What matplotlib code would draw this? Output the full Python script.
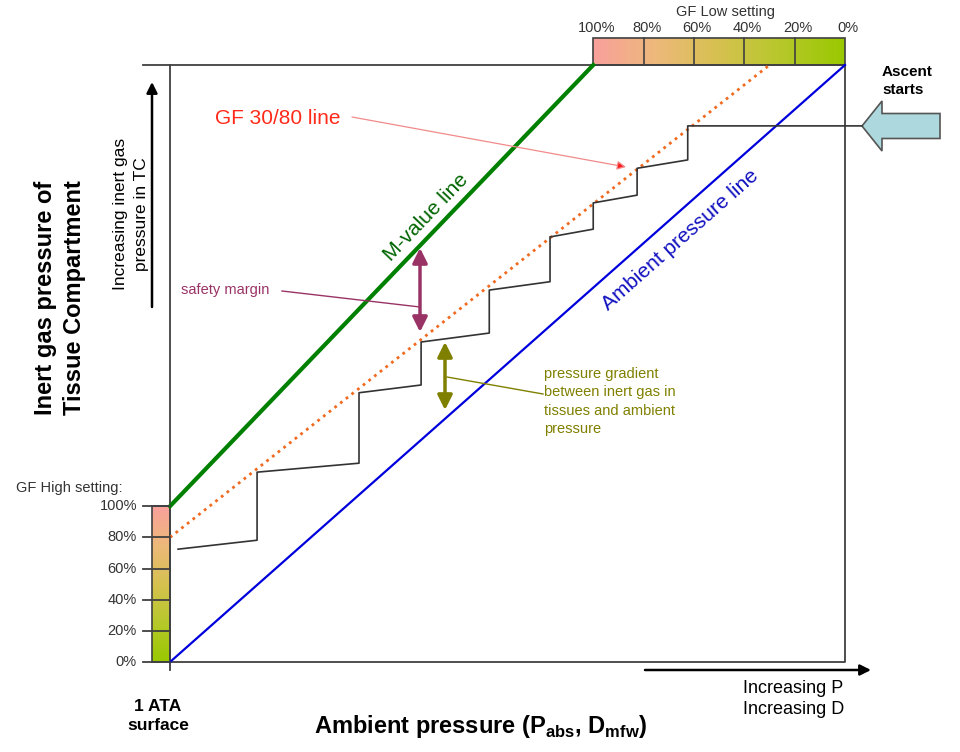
import numpy as np
import matplotlib.pyplot as plt
import matplotlib.patches as mpatches
from matplotlib.colors import LinearSegmentedColormap

# diagram units: x = ambient pressure (0 = surface, 1 = start of ascent),
# y = inert gas pressure in the tissue compartment (ambient line: y = x)
mvalue_surface = 0.261      # M-value at the surface
mvalue_top_p = 0.627        # ambient pressure where M-value line reaches y = 1
gf_low = 0.30
gf_high = 0.80
gf_steps = [0, 20, 40, 60, 80, 100]
gf_labels = ['0%', '20%', '40%', '60%', '80%', '100%']

# tissue pressure during the ascent with deco stops
tissue_p = [1.025, 0.767, 0.767, 0.692, 0.692, 0.627, 0.627, 0.563, 0.563,
            0.473, 0.473, 0.372, 0.372, 0.280, 0.280, 0.129, 0.129, 0.012]
tissue_y = [0.898, 0.898, 0.841, 0.827, 0.782, 0.769, 0.725, 0.712, 0.637,
            0.623, 0.551, 0.536, 0.464, 0.451, 0.333, 0.318, 0.204, 0.189]

W, H = 960, 752
BOX = (170, 65, 845, 662)   # left, top, right, bottom in pixels


def fx(x):
    return x / W


def fy(y):
    return 1 - y / H


def mvalue(p):
    return mvalue_surface + (1 - mvalue_surface) / mvalue_top_p * p


def main():
    plt.rcParams['font.family'] = ['Liberation Sans', 'DejaVu Sans']
    plt.rcParams['mathtext.fontset'] = 'custom'
    plt.rcParams['mathtext.rm'] = 'Liberation Sans'
    plt.rcParams['mathtext.bf'] = 'Liberation Sans:bold'

    fig = plt.figure(figsize=(W / 100, H / 100), dpi=100, facecolor='w')
    l, t, r, b = BOX
    ax = fig.add_axes([fx(l), fy(b), (r - l) / W, (b - t) / H])
    ax.set_axis_off()
    sx = 1 / (r - l)   # data units per pixel
    sy = 1 / (b - t)

    gf_cmap = LinearSegmentedColormap.from_list(
        'gf', ['#99c900', '#b6c82a', '#d6c150', '#edb97a', '#f9a09c'])
    edge = '#404040'

    # frame
    ax.plot([0, 0], [1, -8 * sy], color=edge, lw=1.3, clip_on=False)
    ax.plot([-27 * sx, 1], [1, 1], color=edge, lw=1.3, clip_on=False)
    ax.plot([0, 1, 1], [0, 0, 1], color=edge, lw=1.3, clip_on=False)

    # ambient pressure line
    ax.plot([0, 1], [0, 1], color='#0000dd', lw=1.6, clip_on=False)
    # M-value line
    ax.plot([0, mvalue_top_p], [mvalue(0), mvalue(mvalue_top_p)],
            color='#008000', lw=3, clip_on=False)
    # GF line
    gf_p = [0, 1 - gf_low * (1 - mvalue_top_p)]
    gf_y = [gf_high * mvalue(0), 1]
    ax.plot(gf_p, gf_y, color='#f06a20', lw=2, ls=(0, (1, 1.6)), clip_on=False)

    # tissue pressure staircase
    ax.plot(tissue_p, tissue_y, color='#333333', lw=1.2, clip_on=False)

    # GF High setting bar (left)
    bx0 = -18 * sx
    im = ax.imshow(np.linspace(0, 1, 256).reshape(-1, 1), cmap=gf_cmap,
                   origin='lower', aspect='auto',
                   extent=[bx0, 0, 0, mvalue(0)], zorder=1)
    im.set_clip_on(False)
    ax.add_patch(mpatches.Rectangle((bx0, 0), -bx0, mvalue(0), fill=False,
                                    ec=edge, lw=1.2, clip_on=False))
    for g, lab in zip(gf_steps, gf_labels):
        yy = g / 100 * mvalue(0)
        ax.plot([-27 * sx, 0], [yy, yy], color=edge, lw=1.3, clip_on=False)
        ax.text(-33 * sx, yy, lab, ha='right', va='center', fontsize=10.5,
                color='#333333')
    fig.text(fx(16), fy(488), 'GF High setting:', fontsize=10.5,
             color='#333333', va='center')

    # GF Low setting bar (top)
    bh = 27 * sy
    im2 = ax.imshow(np.linspace(1, 0, 256).reshape(1, -1), cmap=gf_cmap,
                    aspect='auto', extent=[mvalue_top_p, 1, 1, 1 + bh], zorder=1)
    im2.set_clip_on(False)
    ax.add_patch(mpatches.Rectangle((mvalue_top_p, 1), 1 - mvalue_top_p, bh,
                                    fill=False, ec=edge, lw=1.2, clip_on=False))
    for g, lab in zip(gf_steps, gf_labels):
        xx = 1 - g / 100 * (1 - mvalue_top_p)
        if 0 < g < 100:
            ax.plot([xx, xx], [1, 1 + bh], color=edge, lw=1.2, clip_on=False)
        ax.text(xx + 3 * sx, 1 + 37 * sy, lab, ha='center', va='center',
                fontsize=10.5, color='#333333')
    fig.text(fx(725), fy(12), 'GF Low setting', ha='center', va='center',
             fontsize=10.5, color='#333333')

    # ascent arrow
    ax.add_patch(mpatches.FancyArrow(
        (940 - l) * sx, (b - 126) * sy, -78 * sx, 0, width=25 * sy,
        head_width=50 * sy, head_length=20 * sx, length_includes_head=True,
        fc='#acd8de', ec='#555555', lw=1.2, clip_on=False))
    fig.text(fx(882), fy(81), 'Ascent\nstarts', fontsize=11, fontweight='bold',
             va='center', ha='left', linespacing=1.3)

    # line labels
    ang_amb = np.degrees(np.arctan2(b - t, r - l))
    ax.text((680 - l) * sx, (b - 240) * sy, 'Ambient pressure line',
            color='#1010c0', fontsize=15, rotation=ang_amb,
            rotation_mode='anchor', ha='center', va='center')
    ang_m = np.degrees(np.arctan2((mvalue(mvalue_top_p) - mvalue(0)) / sy,
                                  mvalue_top_p / sx))
    ax.text((426 - l) * sx, (b - 217) * sy, 'M-value line',
            color='#006400', fontsize=15, rotation=ang_m,
            rotation_mode='anchor', ha='center', va='center')

    # GF 30/80 label
    ax.text((215 - l) * sx, (b - 118) * sy, 'GF 30/80 line', color='#ff2a1a',
            fontsize=15, va='center', ha='left')
    ax.annotate('', xy=((626 - l) * sx, (b - 167) * sy),
                xytext=((352 - l) * sx, (b - 117) * sy),
                arrowprops=dict(arrowstyle='-|>', fc='#ff1a1a', ec='#f28a8a',
                                lw=0.9, mutation_scale=13, shrinkA=0, shrinkB=0),
                annotation_clip=False)

    # safety margin
    purple = '#993366'
    ax.annotate('', xy=((420 - l) * sx, (b - 248) * sy),
                xytext=((420 - l) * sx, (b - 332) * sy),
                arrowprops=dict(arrowstyle='<|-|>', color=purple, lw=2.5,
                                mutation_scale=22, shrinkA=0, shrinkB=0))
    ax.plot([(282 - l) * sx, (420 - l) * sx], [(b - 291) * sy, (b - 307) * sy],
            color=purple, lw=1)
    ax.text((181 - l) * sx, (b - 290) * sy, 'safety margin', color=purple,
            fontsize=10.5, va='center', ha='left')

    # pressure gradient
    olive = '#808000'
    ax.annotate('', xy=((445 - l) * sx, (b - 342) * sy),
                xytext=((445 - l) * sx, (b - 410) * sy),
                arrowprops=dict(arrowstyle='<|-|>', color=olive, lw=2.5,
                                mutation_scale=22, shrinkA=0, shrinkB=0))
    ax.plot([(447 - l) * sx, (543 - l) * sx], [(b - 377) * sy, (b - 394) * sy],
            color=olive, lw=1)
    ax.text((544 - l) * sx, (b - 367) * sy,
            'pressure gradient\nbetween inert gas in\ntissues and ambient\npressure',
            color=olive, fontsize=10.5, va='top', ha='left', linespacing=1.4)

    # axis arrows
    ax.annotate('', xy=((152 - l) * sx, (b - 82) * sy),
                xytext=((152 - l) * sx, (b - 307) * sy),
                arrowprops=dict(arrowstyle='-|>', color='k', lw=1.8,
                                mutation_scale=16, shrinkA=0, shrinkB=0),
                annotation_clip=False)
    ax.annotate('', xy=((871 - l) * sx, (b - 670) * sy),
                xytext=((645 - l) * sx, (b - 670) * sy),
                arrowprops=dict(arrowstyle='-|>', color='k', lw=1.8,
                                mutation_scale=16, shrinkA=0, shrinkB=0),
                annotation_clip=False)

    # axis texts
    fig.text(fx(60), fy(298), 'Inert gas pressure of\nTissue Compartment',
             rotation=90, fontsize=17, fontweight='bold', ha='center',
             va='center', linespacing=1.3)
    fig.text(fx(131), fy(214), 'Increasing inert gas\npressure in TC',
             rotation=90, fontsize=12.5, ha='center', va='center',
             linespacing=1.45)
    fig.text(fx(743), fy(699), 'Increasing P\nIncreasing D', fontsize=13,
             ha='left', va='center', linespacing=1.3)
    fig.text(fx(158), fy(716), '1 ATA\nsurface', fontsize=12.5,
             fontweight='bold', ha='center', va='center', linespacing=1.35)
    fig.text(fx(481), fy(727),
             r'Ambient pressure (P$_{\mathbf{abs}}$, D$_{\mathbf{mfw}}$)',
             fontsize=17, fontweight='bold', ha='center', va='center')

    ax.set_xlim(0, 1)
    ax.set_ylim(0, 1)
    plt.savefig('out.png', dpi=100, facecolor='w')


if __name__ == '__main__':
    main()
